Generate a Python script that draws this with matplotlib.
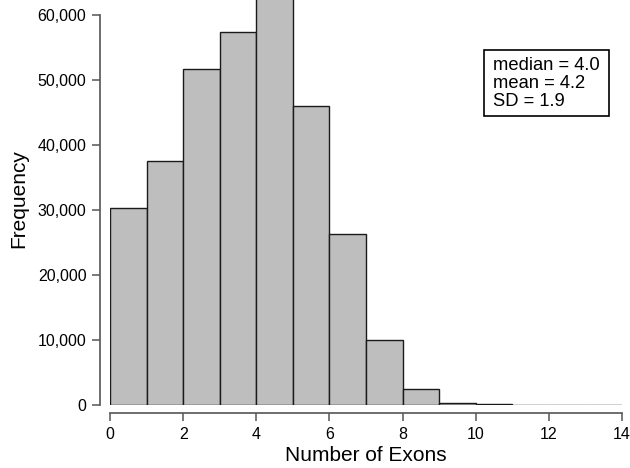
import matplotlib
matplotlib.use("Agg")
import matplotlib.pyplot as plt
from matplotlib.patches import Rectangle
import numpy as np

plt.rcParams['font.family'] = ['Liberation Sans', 'DejaVu Sans']

# Data: histogram of number of exons (bins of width 1 from 0 to 14)
bin_edges = list(range(0, 15))
frequencies = [30350, 37580, 51650, 57430, 63500, 46000, 26260, 10000,
               2400, 260, 150, 20, 5, 2]
y_ticks = [0, 10000, 20000, 30000, 40000, 50000, 60000]
x_ticks = [0, 2, 4, 6, 8, 10, 12, 14]
stats_text = "median = 4.0\nmean = 4.2\nSD = 1.9"

W, H = 630, 468
fig = plt.figure(figsize=(W / 100, H / 100), dpi=100)
left, right = 110 / W, 622 / W
bottom = (H - 405) / H
top = 1.0
ax = fig.add_axes([left, bottom, right - left, top - bottom])

ax.bar(bin_edges[:-1], frequencies, width=1, align='edge',
       color='#bebebe', edgecolor='#1a1a1a', linewidth=1.0, zorder=2)

ax.set_xlim(0, 14)
ax.set_ylim(0, 60000 + 15 / 65 * 10000)

for s in ['top', 'right']:
    ax.spines[s].set_visible(False)
ax.spines['left'].set_position(('outward', 7))
ax.spines['bottom'].set_position(('outward', 6))
ax.spines['left'].set_bounds(0, 60000)
ax.spines['bottom'].set_bounds(0, 14)
for s in ['left', 'bottom']:
    ax.spines[s].set_color('#555555')
    ax.spines[s].set_linewidth(1.2)

ax.set_yticks(y_ticks)
ax.set_yticklabels([f"{v:,}" for v in y_ticks])
ax.set_xticks(x_ticks)
ax.set_xticklabels([str(v) for v in x_ticks])
ax.tick_params(axis='both', length=6, width=1.1, color='#555555',
               labelsize=11.5, labelcolor='black')
ax.tick_params(axis='y', pad=4)
ax.tick_params(axis='x', pad=4)

ax.set_ylabel("Frequency", fontsize=15)
ax.yaxis.set_label_coords(28 / W, (H - 199) / H, transform=fig.transFigure)
ax.set_xlabel("Number of Exons", fontsize=15)
ax.xaxis.set_label_coords(366 / W, (H - 446) / H, transform=fig.transFigure)

# Statistics box
fig.patches.append(Rectangle((484 / W, (H - 116) / H), 125 / W, 66 / H,
                             transform=fig.transFigure, facecolor='white',
                             edgecolor='black', linewidth=1.2, zorder=3))
fig.text(493 / W, (H - 57) / H, stats_text, fontsize=13.2, ha='left', va='top',
         linespacing=1.08, zorder=4)

fig.savefig("out.png", dpi=100)
